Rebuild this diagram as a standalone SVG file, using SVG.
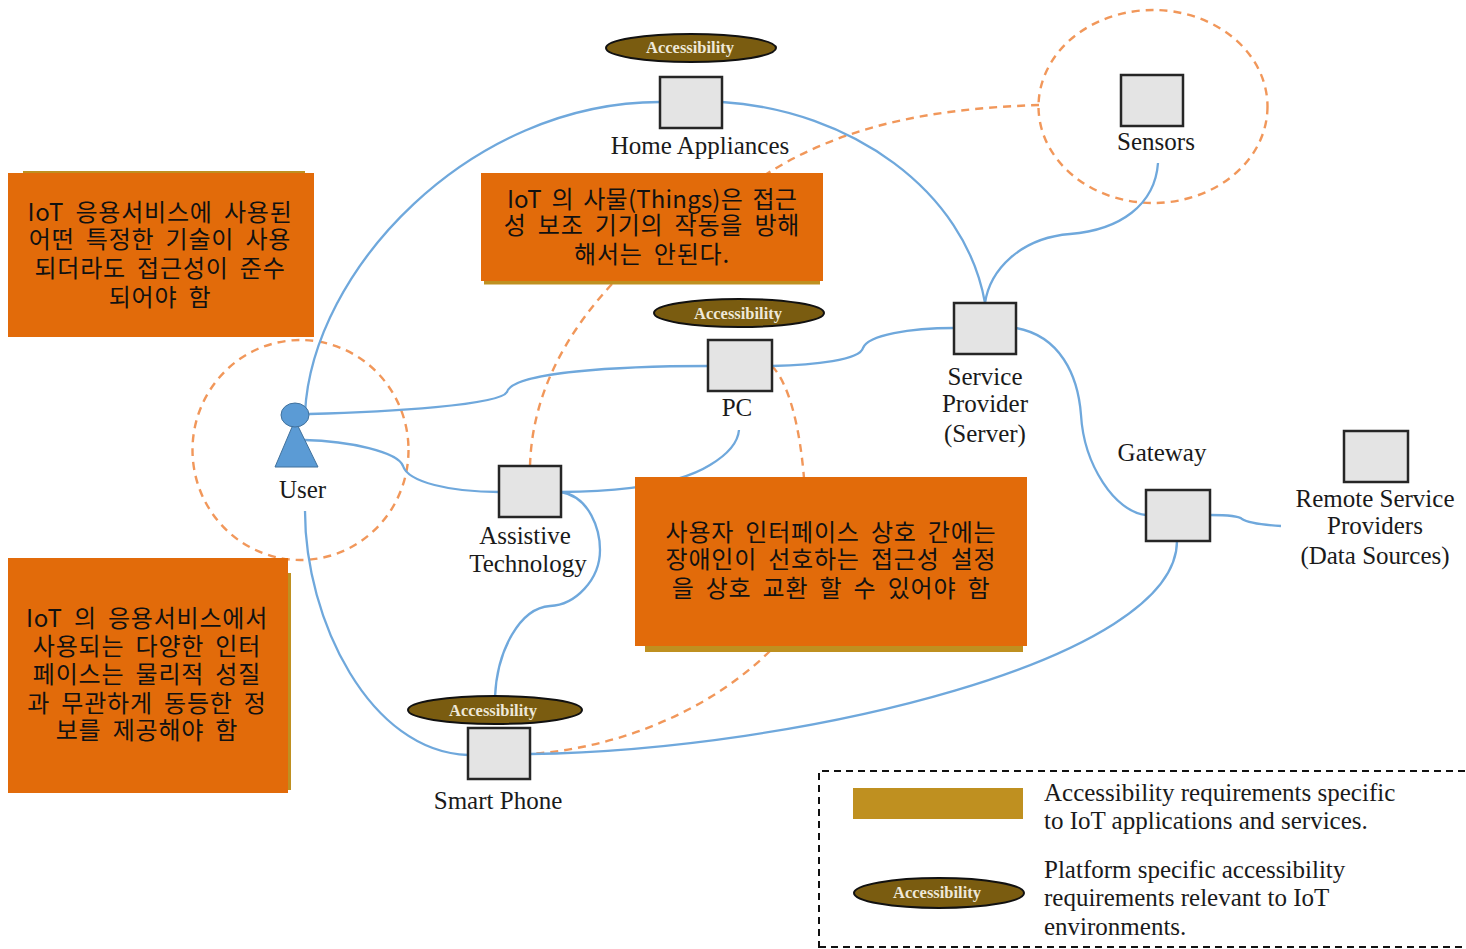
<svg xmlns="http://www.w3.org/2000/svg" width="1466" height="949" viewBox="0 0 1466 949">
<style>
.c{fill:none;stroke:#6fa8dc;stroke-width:2.3}
.d{fill:none;stroke:#ed7d31;stroke-width:2.4;stroke-dasharray:8 6;opacity:.8}
.n{fill:#e4e4e4;stroke:#262626;stroke-width:2.5}
.e{fill:#7a5c10;stroke:#111;stroke-width:2}
.g{fill:#bf9020}
.o{fill:#e26b0a}
.t{font-family:"Liberation Serif","Times New Roman",serif;font-size:25px;fill:#1a1a1a;text-anchor:middle}
.l{font-family:"Liberation Serif","Times New Roman",serif;font-size:25px;fill:#1a1a1a}
.a{font-family:"Liberation Serif","Times New Roman",serif;font-size:16.500px;font-weight:bold;fill:#eee8d8;text-anchor:middle}
.k{font-family:"Noto Sans CJK KR","Noto Sans",sans-serif;font-size:24px;letter-spacing:.8px;word-spacing:5px;fill:#111;text-anchor:middle}
.s{letter-spacing:.2px;word-spacing:4px}
</style>
<g id="connectors">
<ellipse class="d" cx="300.500" cy="450" rx="108" ry="110"/>
<ellipse class="d" cx="1153" cy="106.500" rx="114.500" ry="96.500"/>
<path class="d" d="M1039 105C950 108 850 120 765 175"/>
<path class="d" d="M612 284C565 335 532 395 530 466"/>
<path class="d" d="M772 366C790 385 800 430 804 478"/>
<path class="d" d="M770 651C710 710 620 748 530 754"/>
<path class="c" d="M305 413C312 270 470 102 660 102"/>
<path class="c" d="M722 102C850 110 965 190 985 303"/>
<path class="c" d="M985 303C990 270 1020 238 1070 234C1120 230 1155 205 1158 163"/>
<path class="c" d="M309 414C390 412 500 405 507 392C512 372 620 366 708 366"/>
<path class="c" d="M772 366C815 365 860 360 863 348C868 335 910 328 954 328"/>
<path class="c" d="M1016 328C1060 336 1078 375 1081 415C1084 465 1115 512 1146 515"/>
<path class="c" d="M1210 515C1220 515 1238 515 1242 519C1248 523 1265 525 1281 526"/>
<path class="c" d="M304 440C350 441 398 452 403 466C408 482 450 492 499 492"/>
<path class="c" d="M561 492C590 492 670 490 710 465C730 453 738 442 739 430"/>
<path class="c" d="M561 492C590 497 600 530 600 550C600 580 575 605 550 606C520 608 497 650 495 697"/>
<path class="c" d="M305 511C305 620 370 752 468 755"/>
<path class="c" d="M530 754C800 750 1177 660 1177 541"/>
</g>
<g id="box-a"><rect class="g" x="23" y="171" width="282" height="10"/><rect class="o" x="8" y="173" width="306" height="164"/>
<text class="k"><tspan x="160" y="221">IoT 응용서비스에 사용된</tspan><tspan x="160" y="248">어떤 특정한 기술이 사용</tspan><tspan x="160" y="277">되더라도 접근성이 준수</tspan><tspan x="160" y="306">되어야 함</tspan></text></g>
<g id="box-b"><rect class="g" x="484" y="270" width="336" height="14.500"/><rect class="o" x="481" y="173" width="342" height="108"/>
<text class="k"><tspan class="s" x="652" y="208">IoT 의 사물(Things)은 접근</tspan><tspan x="652" y="234">성 보조 기기의 작동을 방해</tspan><tspan x="652" y="263">해서는 안된다.</tspan></text></g>
<g id="box-c"><rect class="g" x="645" y="630" width="378" height="22"/><rect class="o" x="635" y="477" width="392" height="169"/>
<text class="k"><tspan x="831" y="541">사용자 인터페이스 상호 간에는</tspan><tspan x="831" y="568">장애인이 선호하는 접근성 설정</tspan><tspan x="831" y="597">을 상호 교환 할 수 있어야 함</tspan></text></g>
<g id="box-d"><rect class="g" x="270" y="573" width="21" height="217"/><rect class="o" x="8" y="558" width="280" height="235"/>
<text class="k"><tspan x="147" y="627">IoT 의 응용서비스에서</tspan><tspan x="147" y="655">사용되는 다양한 인터</tspan><tspan x="147" y="683">페이스는 물리적 성질</tspan><tspan x="147" y="712">과 무관하게 동등한 정</tspan><tspan x="147" y="739">보를 제공해야 함</tspan></text></g>
<g id="user"><path d="M295 420L318 467H275Z" fill="#5b9bd5"/><path d="M295 420L318 467H275Z" fill="none" stroke="#41719c"/><ellipse cx="295" cy="415" rx="14" ry="12" fill="#5b9bd5" stroke="#41719c"/><text class="t" x="302.500" y="498">User</text></g>
<g id="home-appliances"><ellipse class="e" cx="691" cy="48" rx="85" ry="14"/><text class="a" x="690" y="53">Accessibility</text><rect class="n" x="660" y="77" width="62" height="51"/><text class="t" x="700" y="154">Home Appliances</text></g>
<g id="sensors"><rect class="n" x="1121" y="75" width="62" height="51"/><text class="t" x="1156" y="150">Sensors</text></g>
<g id="pc"><ellipse class="e" cx="739" cy="313" rx="85" ry="14"/><text class="a" x="738" y="319">Accessibility</text><rect class="n" x="708" y="340" width="64" height="51"/><text class="t" x="737" y="416">PC</text></g>
<g id="service-provider"><rect class="n" x="954" y="303" width="62" height="51"/><text class="t"><tspan x="985" y="385">Service</tspan><tspan x="985" y="412">Provider</tspan><tspan x="985" y="442">(Server)</tspan></text></g>
<g id="gateway"><rect class="n" x="1146" y="490" width="64" height="51"/><text class="t" x="1162" y="461">Gateway</text></g>
<g id="remote"><rect class="n" x="1344" y="431" width="64" height="51"/><text class="t"><tspan x="1375" y="507">Remote Service</tspan><tspan x="1375" y="534">Providers</tspan><tspan x="1375" y="564">(Data Sources)</tspan></text></g>
<g id="assistive"><rect class="n" x="499" y="466" width="62" height="51"/><text class="t"><tspan x="525" y="544">Assistive</tspan><tspan x="528" y="572">Technology</tspan></text></g>
<g id="smart-phone"><ellipse class="e" cx="495" cy="710" rx="87" ry="14"/><text class="a" x="493" y="716">Accessibility</text><rect class="n" x="468" y="728" width="62" height="51"/><text class="t" x="498" y="809">Smart Phone</text></g>
<g id="legend"><path d="M819 948V771H1466M819 947H1466" fill="none" stroke="#111" stroke-width="2" stroke-dasharray="7 5"/>
<rect class="g" x="853" y="788" width="170" height="31"/>
<text class="l"><tspan x="1044" y="801">Accessibility requirements specific</tspan><tspan x="1044" y="829">to IoT applications and services.</tspan><tspan x="1044" y="878">Platform specific accessibility</tspan><tspan x="1044" y="906">requirements relevant to IoT</tspan><tspan x="1044" y="935">environments.</tspan></text>
<ellipse class="e" cx="939" cy="893" rx="85" ry="15"/><text class="a" x="937" y="898">Accessibility</text></g>
</svg>
